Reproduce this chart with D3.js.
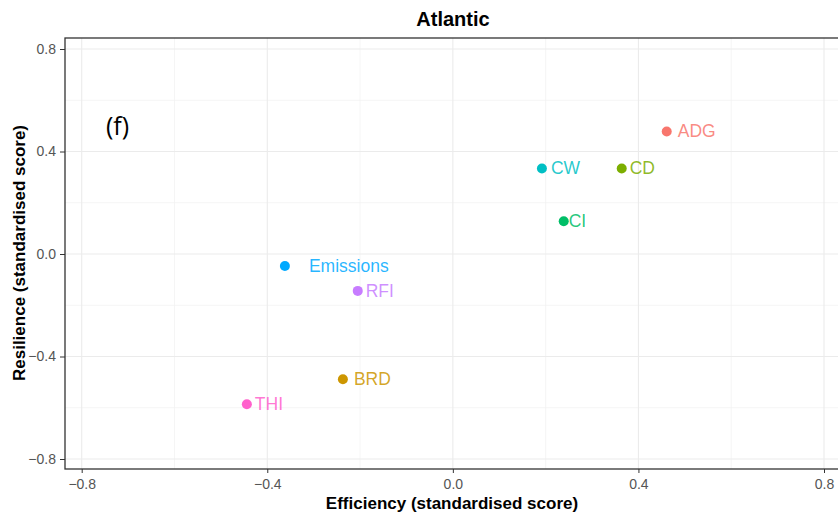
<!DOCTYPE html>
<html>
<head>
<meta charset="utf-8">
<script src="https://cdn.jsdelivr.net/npm/d3@7"></script>
<style>
  body { margin: 0; background: #fff; overflow: hidden; }
  svg text { font-family: "Liberation Sans", Arial, sans-serif; }
</style>
</head>
<body>
<div class="chart"></div>
<script>
// trait names, efficiency (x) and resilience (y) scores
var traits = ['ADG', 'BRD', 'CD', 'CI', 'CW', 'Emissions', 'RFI', 'THI'];
var efficiency = [0.461, -0.237, 0.364, 0.239, 0.192, -0.362, -0.205, -0.444];
var resilience = [0.478, -0.489, 0.334, 0.128, 0.334, -0.047, -0.144, -0.586];
var colours = ['#F8766D', '#CD9600', '#7CAE00', '#00BE67', '#00BFC4', '#00A9FF', '#C77CFF', '#FF61CC'];
var majorTicks = [-0.8, -0.4, 0.0, 0.4, 0.8];
var minorTicks = [-0.6, -0.2, 0.2, 0.6];
// label offsets (repelled text), in pixels
var labelDx = [11, 11, 8, 5, 9, 24, 8, 8];

window.onload = function() {
    var width = 838, height = 516;
    var left = 65, right = 842, top = 38, bottom = 469;

    var svg = d3.select('.chart').append('svg')
        .attr('width', width)
        .attr('height', height);

    var x = d3.scaleLinear().domain([-0.8, 0.8]).range([81.7, 824]);
    var y = d3.scaleLinear().domain([-0.8, 0.8]).range([459, 49]);

    // grid
    var grid = svg.append('g');
    grid.selectAll('.minor-x').data(minorTicks).enter().append('line')
        .attr('x1', function(d) { return x(d); }).attr('x2', function(d) { return x(d); })
        .attr('y1', top).attr('y2', bottom)
        .attr('stroke', '#F3F3F3').attr('stroke-width', 0.8);
    grid.selectAll('.minor-y').data(minorTicks).enter().append('line')
        .attr('y1', function(d) { return y(d); }).attr('y2', function(d) { return y(d); })
        .attr('x1', left).attr('x2', right)
        .attr('stroke', '#F3F3F3').attr('stroke-width', 0.8);
    grid.selectAll('.major-x').data(majorTicks).enter().append('line')
        .attr('x1', function(d) { return x(d); }).attr('x2', function(d) { return x(d); })
        .attr('y1', top).attr('y2', bottom)
        .attr('stroke', '#EBEBEB').attr('stroke-width', 1.1);
    grid.selectAll('.major-y').data(majorTicks).enter().append('line')
        .attr('y1', function(d) { return y(d); }).attr('y2', function(d) { return y(d); })
        .attr('x1', left).attr('x2', right)
        .attr('stroke', '#EBEBEB').attr('stroke-width', 1.1);

    // axes
    var fmt = d3.format('.1f');
    var xAxis = svg.append('g')
        .attr('transform', 'translate(0,' + bottom + ')')
        .call(d3.axisBottom(x).tickValues(majorTicks).tickFormat(fmt).tickSizeOuter(0).tickSize(4).tickPadding(6));
    var yAxis = svg.append('g')
        .attr('transform', 'translate(' + left + ',0)')
        .call(d3.axisLeft(y).tickValues(majorTicks).tickFormat(fmt).tickSizeOuter(0).tickSize(5).tickPadding(4));
    [xAxis, yAxis].forEach(function(a) {
        a.select('.domain').remove();
        a.selectAll('line').attr('stroke', '#333333');
        a.selectAll('text').attr('fill', '#555555')
            .style('font-size', '14px').style('font-family', '"Liberation Sans", Arial, sans-serif');
    });

    // panel border
    svg.append('rect')
        .attr('x', left).attr('y', top)
        .attr('width', right - left).attr('height', bottom - top)
        .attr('fill', 'none').attr('stroke', '#333333').attr('stroke-width', 1.3);

    // points
    svg.selectAll('.pt').data(traits).enter().append('circle')
        .attr('cx', function(d, i) { return x(efficiency[i]); })
        .attr('cy', function(d, i) { return y(resilience[i]); })
        .attr('r', 5)
        .attr('fill', function(d, i) { return colours[i]; });

    // labels
    svg.selectAll('.lbl').data(traits).enter().append('text')
        .attr('x', function(d, i) { return x(efficiency[i]) + labelDx[i]; })
        .attr('y', function(d, i) { return y(resilience[i]) + 1; })
        .attr('dominant-baseline', 'middle')
        .attr('fill', function(d, i) { return colours[i]; })
        .attr('fill-opacity', 0.85)
        .style('font-size', '17.5px')
        .text(function(d) { return d; });

    // panel tag
    svg.append('text')
        .attr('x', 106).attr('y', 135)
        .style('font-size', '25px')
        .style('font-family', '"Open Sans", "Liberation Sans", sans-serif')
        .attr('fill', '#000')
        .text('(f)');

    // title and axis titles
    svg.append('text')
        .attr('x', 453).attr('y', 26)
        .attr('text-anchor', 'middle')
        .style('font-size', '20px').style('font-weight', 'bold')
        .text('Atlantic');
    svg.append('text')
        .attr('x', 452).attr('y', 509)
        .attr('text-anchor', 'middle')
        .style('font-size', '17px').style('font-weight', 'bold')
        .text('Efficiency (standardised score)');
    svg.append('text')
        .attr('transform', 'translate(25,' + 253 + ') rotate(-90)')
        .attr('text-anchor', 'middle')
        .style('font-size', '17px').style('font-weight', 'bold')
        .text('Resilience (standardised score)');
};
</script>
</body>
</html>
